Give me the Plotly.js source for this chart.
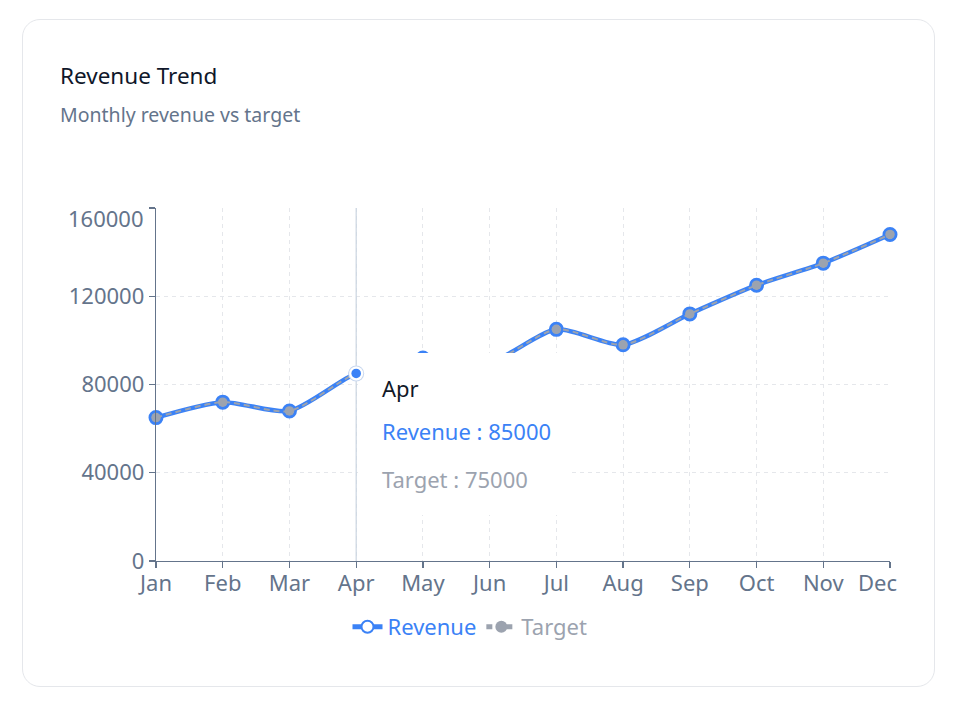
<!DOCTYPE html>
<html>
<head>
<meta charset="utf-8">
<script src="https://cdn.plot.ly/plotly-3.0.1.min.js"></script>
<style>
  html, body { margin:0; padding:0; background:#ffffff; width:958px; height:706px; overflow:hidden; font-family:"Noto Sans", sans-serif; }
  .card { position:absolute; left:22px; top:19px; width:911px; height:666px; border:1px solid #e5e7eb; border-radius:18px; background:#fff; }
  .title { position:absolute; left:60px; top:60px; font-size:22.5px; color:#0f172a; line-height:32px; white-space:nowrap; }
  .subtitle { position:absolute; left:60px; top:100px; font-size:19.5px; color:#64748b; line-height:30px; white-space:nowrap; }
  #chart { position:absolute; left:0; top:0; width:958px; height:706px; }
</style>
</head>
<body>
<div class="card"></div>
<div class="title">Revenue Trend</div>
<div class="subtitle">Monthly revenue vs target</div>
<div id="chart"></div>
<script>
// ---- data ----
const months = ["Jan","Feb","Mar","Apr","May","Jun","Jul","Aug","Sep","Oct","Nov","Dec"];
const revenue = [65000, 72000, 68000, 85000, 92000, 90000, 105000, 98000, 112000, 125000, 135000, 148000];
// the dashed Target line is drawn over the revenue path in the reference
const targetLine = [65000, 72000, 68000, 85000, 92000, 90000, 105000, 98000, 112000, 125000, 135000, 148000];
const yTicks = [0, 40000, 80000, 120000, 160000];
const activeIndex = 3;          // hovered month (Apr)
const tooltipTarget = 75000;    // Target value shown in the tooltip

const BLUE = "#3b82f6", GRAY = "#9ca3af", AXIS = "#64748b", TICK = "#64748b", GRID = "#e5e7eb";
const FONT = "Noto Sans, sans-serif";
const FS = 22;

// plot area in pixels
const L = 156, R = 890, T = 208, B = 561, W = 958, H = 706;
const px = x => (x - L) / (R - L);
const py = y => (B - y) / (B - T);

const traces = [
  {
    x: months, y: revenue, name: '<span style="color:' + BLUE + '">Revenue</span>',
    type: "scatter", mode: "lines+markers", cliponaxis: false,
    line: { color: BLUE, width: 4.5, shape: "spline", smoothing: 0.7 },
    marker: { symbol: "circle", size: 11.5, color: "#ffffff", line: { color: BLUE, width: 3.5 } },
    hoverinfo: "skip"
  },
  {
    x: months, y: targetLine, name: '<span style="color:' + GRAY + '">Target</span>',
    type: "scatter", mode: "lines+markers", cliponaxis: false,
    line: { color: GRAY, width: 2, dash: "6px,4px", shape: "spline", smoothing: 0.7 },
    marker: { symbol: "circle", size: 9.5, color: GRAY, line: { width: 0 } },
    hoverinfo: "skip"
  }
];

const xTickText = months.map((m, i) => i === months.length - 1 ? "" : m);
const yTickText = yTicks.map((v, i) => i === yTicks.length - 1 ? "" : String(v));

const dotShape = (r, fill) => ({
  type: "circle", xref: "x", yref: "y", layer: "above",
  xsizemode: "pixel", ysizemode: "pixel",
  xanchor: activeIndex, yanchor: revenue[activeIndex],
  x0: -r, x1: r, y0: -r, y1: r,
  fillcolor: fill, line: { width: 0 }
});

const layout = {
  width: W, height: H,
  margin: { l: L, r: W - R, t: T, b: H - B, pad: 0 },
  paper_bgcolor: "rgba(0,0,0,0)", plot_bgcolor: "rgba(0,0,0,0)",
  font: { family: FONT, size: FS, color: TICK },
  hovermode: false,
  showlegend: true,
  legend: {
    orientation: "h", x: px(470), xanchor: "center", y: py(627), yanchor: "middle",
    font: { family: FONT, size: FS, color: TICK }, itemsizing: "constant", itemwidth: 30,
    bgcolor: "rgba(0,0,0,0)", tracegroupgap: 0
  },
  xaxis: {
    type: "category", range: [0, months.length - 1],
    tickmode: "array", tickvals: months, ticktext: xTickText,
    showgrid: true, gridcolor: GRID, griddash: "4px,4px", gridwidth: 1,
    showline: true, linecolor: AXIS, linewidth: 1.3,
    ticks: "outside", ticklen: 6, tickcolor: AXIS, tickwidth: 1.3, ticklabelstandoff: -4,
    tickfont: { family: FONT, size: FS, color: TICK },
    zeroline: false, fixedrange: true, automargin: false
  },
  yaxis: {
    range: [0, 160000], tickmode: "array", tickvals: yTicks, ticktext: yTickText,
    showgrid: true, gridcolor: GRID, griddash: "4px,4px", gridwidth: 1,
    showline: true, linecolor: AXIS, linewidth: 1.3,
    ticks: "outside", ticklen: 6, tickcolor: AXIS, tickwidth: 1.3,
    tickfont: { family: FONT, size: FS, color: TICK },
    zeroline: false, fixedrange: true, automargin: false
  },
  shapes: [
    // hover cursor line
    { type: "line", xref: "x", yref: "paper", x0: activeIndex, x1: activeIndex, y0: 0, y1: 1,
      line: { color: "#cbd5e1", width: 1.2 }, layer: "above" },
    // tooltip box
    { type: "rect", xref: "paper", yref: "paper", x0: px(358), x1: px(571), y0: py(515), y1: py(353),
      fillcolor: "#ffffff", line: { width: 0 }, layer: "above" },
    // active dot at the hovered month
    dotShape(8, "#c9d8ef"),
    dotShape(7, "#ffffff"),
    dotShape(4.8, BLUE)
  ],
  annotations: [
    { xref: "paper", yref: "y", x: 0, y: yTicks[yTicks.length - 1], text: String(yTicks[yTicks.length - 1]),
      xanchor: "right", yanchor: "middle", xshift: -10, yshift: -10, showarrow: false,
      font: { family: FONT, size: FS, color: TICK } },
    { xref: "x", yref: "paper", x: months.length - 1, y: 0, text: months[months.length - 1],
      xanchor: "center", yanchor: "top", xshift: -13, yshift: -4, showarrow: false,
      font: { family: FONT, size: FS, color: TICK } },
    { xref: "paper", yref: "paper", x: px(380), y: py(388), text: months[activeIndex],
      xanchor: "left", yanchor: "middle", showarrow: false,
      font: { family: FONT, size: FS, color: "#111827" } },
    { xref: "paper", yref: "paper", x: px(380), y: py(431), text: "Revenue : " + revenue[activeIndex],
      xanchor: "left", yanchor: "middle", showarrow: false,
      font: { family: FONT, size: FS, color: BLUE } },
    { xref: "paper", yref: "paper", x: px(380), y: py(479), text: "Target : " + tooltipTarget,
      xanchor: "left", yanchor: "middle", showarrow: false,
      font: { family: FONT, size: FS, color: GRAY } }
  ]
};

Plotly.newPlot("chart", traces, layout, { displayModeBar: false, staticPlot: true });
</script>
</body>
</html>
